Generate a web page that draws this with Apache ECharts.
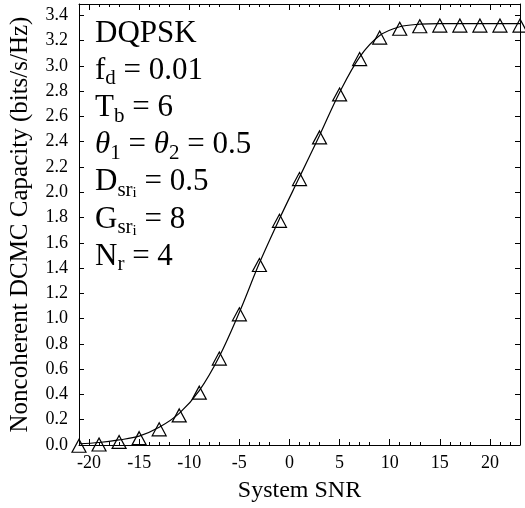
<!DOCTYPE html>
<html>
<head>
<meta charset="utf-8">
<script src="https://cdn.jsdelivr.net/npm/echarts@6/dist/echarts.min.js"></script>
<style>
  html, body { margin: 0; padding: 0; background: #fff; }
  #chart { width: 525px; height: 508px; }
</style>
</head>
<body>
<div id="chart"></div>
<script>
// System SNR (dB) at each triangle marker
const snr = [-21, -19, -17, -15, -13, -11, -9, -7, -5, -3, -1, 1, 3, 5, 7, 9, 11, 13, 15, 17, 19, 21, 23];
// Noncoherent DCMC capacity (bits/s/Hz)
const capacity = [0.01, 0.02, 0.04, 0.07, 0.14, 0.25, 0.43, 0.70, 1.05, 1.44, 1.79, 2.12, 2.45, 2.79, 3.07, 3.24, 3.31, 3.33, 3.335, 3.335, 3.335, 3.335, 3.335];
// labelled ticks on the SNR axis
const snrTicks = [-20, -15, -10, -5, 0, 5, 10, 15, 20];

const FONT = 'Liberation Serif, Times New Roman, serif';

const chart = echarts.init(document.getElementById('chart'), null, { renderer: 'canvas' });

const tickStyle = { color: '#000', width: 1 };

const option = {
  backgroundColor: '#fff',
  animation: false,
  grid: { left: 78, right: 5, top: 4, bottom: 62 },
  xAxis: [{
    type: 'value', min: -21, max: 23, interval: 5,
    name: 'System SNR', nameLocation: 'middle', nameGap: 34,
    nameTextStyle: { fontFamily: FONT, fontSize: 24, color: '#000' },
    axisLine: { onZero: false, lineStyle: tickStyle },
    axisTick: { inside: true, length: 6, lineStyle: tickStyle, customValues: snrTicks },
    minorTick: { show: true, splitNumber: 5, length: 3, lineStyle: tickStyle },
    axisLabel: { fontFamily: FONT, fontSize: 18, color: '#000', margin: 9, customValues: snrTicks },
    splitLine: { show: false }
  }, {
    type: 'value', min: -21, max: 23, interval: 5, position: 'top',
    axisLine: { onZero: false, lineStyle: tickStyle },
    axisTick: { inside: true, length: 6, lineStyle: tickStyle, customValues: snrTicks },
    minorTick: { show: true, splitNumber: 5, length: 3, lineStyle: tickStyle },
    axisLabel: { show: false },
    splitLine: { show: false }
  }],
  yAxis: [{
    type: 'value', min: 0, max: 3.49, interval: 0.2,
    name: 'Noncoherent DCMC Capacity (bits/s/Hz)', nameLocation: 'middle', nameGap: 46,
    nameTextStyle: { fontFamily: FONT, fontSize: 25, color: '#000' },
    axisLine: { onZero: false, lineStyle: tickStyle },
    axisTick: { inside: true, length: 5, lineStyle: tickStyle },
    axisLabel: {
      fontFamily: FONT, fontSize: 18, color: '#000', margin: 11,
      formatter: v => (v > 3.41 ? '' : v.toFixed(1))
    },
    splitLine: { show: false }
  }, {
    type: 'value', min: 0, max: 3.49, interval: 0.2, position: 'right',
    axisLine: { show: true, onZero: false, lineStyle: tickStyle },
    axisTick: { show: true, inside: true, length: 5, lineStyle: tickStyle },
    axisLabel: { show: false },
    splitLine: { show: false }
  }],
  graphic: [{
    type: 'text', left: 95, top: 18, z: 100,
    style: {
      fill: '#000',
      font: '31px ' + FONT,
      text: [
        '{m|DQPSK}',
        '{m|f}{s|d}{m| = 0.01}',
        '{m|T}{s|b}{m| = 6}',
        '{it|θ}{t|1}{m| = }{it|θ}{t|2}{m| = 0.5}',
        '{m|D}{r|sr}{ss|i}{m| = 0.5}',
        '{m|G}{r|sr}{ss|i}{m| = 8}',
        '{m|N}{s|r}{m| = 4}'
      ].join('\n'),
      rich: {
        m: { fontSize: 31, lineHeight: 37.2, fontFamily: FONT, color: '#000' },
        it: { fontSize: 31, lineHeight: 37.2, fontFamily: FONT, fontStyle: 'italic', color: '#000' },
        s: { fontSize: 21, lineHeight: 9, verticalAlign: 'bottom', fontFamily: FONT, color: '#000' },
        t: { fontSize: 21, lineHeight: 12, verticalAlign: 'bottom', fontFamily: FONT, color: '#000' },
        r: { fontSize: 21, lineHeight: 16, verticalAlign: 'bottom', fontFamily: FONT, color: '#000' },
        ss: { fontSize: 15, lineHeight: 1, verticalAlign: 'bottom', fontFamily: FONT, color: '#000' }
      }
    }
  }],
  series: [{
    type: 'line',
    xAxisIndex: 0, yAxisIndex: 0,
    data: snr.map((x, i) => [x, capacity[i]]),
    smooth: 0.35,
    symbol: 'triangle',
    symbolSize: [14, 13],
    symbolOffset: [0, 2],
    showAllSymbol: true,
    clip: false,
    lineStyle: { color: '#000', width: 1.2 },
    itemStyle: { color: 'rgba(0,0,0,0)', borderColor: '#000', borderWidth: 1.2 },
    z: 5
  }]
};

chart.setOption(option);
</script>
</body>
</html>
